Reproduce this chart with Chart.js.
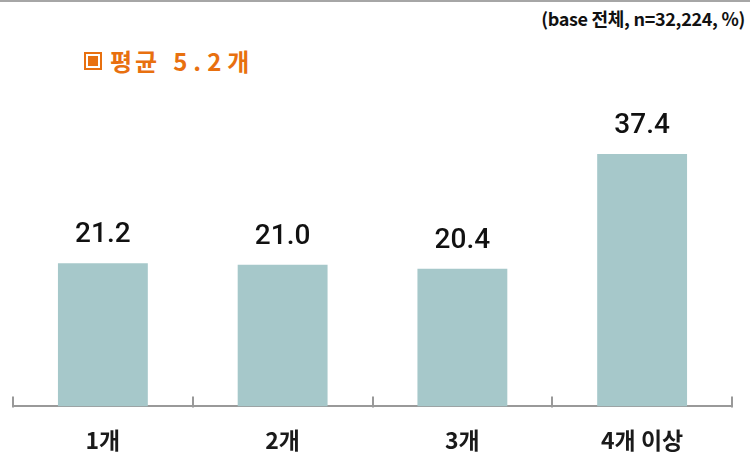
<!DOCTYPE html>
<html>
<head>
<meta charset="utf-8">
<script src="https://cdn.jsdelivr.net/npm/chart.js@4"></script>
<style>
  html, body { margin: 0; padding: 0; background: #fff; }
  #wrap { position: relative; width: 750px; height: 459px; overflow: hidden; }
  #topline { position: absolute; left: 0; top: 0; width: 750px; height: 2px; background: #a6a6a6; }
  #base {
    position: absolute; right: 5px; top: 5px;
    font: 700 18px "Noto Sans CJK KR", sans-serif; color: #111; letter-spacing: -0.3px;
  }
  #avg {
    position: absolute; left: 84px; top: 43px;
    font: 700 24px "Noto Sans CJK KR", sans-serif; color: #e8700f;
    display: flex; align-items: center; letter-spacing: 3px;
  }
  #avg .box {
    width: 10px; height: 10px; border: 2px solid #e8700f; padding: 2px;
    margin-right: 8px; box-sizing: content-box;
  }
  #avg .box i { display: block; width: 10px; height: 10px; background: #e8700f; }
  #avg .num { letter-spacing: 6px; margin-left: 13px; }
  canvas { position: absolute; left: 0; top: 0; }
</style>
</head>
<body>
<div id="wrap">
  <div id="topline"></div>
  <div id="base">(base 전체, n=32,224, %)</div>
  <div id="avg"><span class="box"><i></i></span>평균<span class="num">5.2</span>개</div>
  <canvas id="chart" width="750" height="478"></canvas>
</div>
<script>
const categories = ['1개', '2개', '3개', '4개 이상'];
const shares = [21.2, 21.0, 20.4, 37.4];

// value labels above each bar
const valueLabels = {
  id: 'valueLabels',
  afterDatasetsDraw(chart) {
    const { ctx } = chart;
    const meta = chart.getDatasetMeta(0);
    ctx.save();
    ctx.font = '500 28px Roboto, sans-serif';
    ctx.fillStyle = '#111';
    ctx.textAlign = 'center';
    ctx.textBaseline = 'middle';
    meta.data.forEach((bar, i) => {
      ctx.fillText(shares[i].toFixed(1), bar.x, bar.y - 28);
    });
    ctx.restore();
  },
};

// small upward tick marks at category boundaries
const axisTicks = {
  id: 'axisTicks',
  afterDraw(chart) {
    const { ctx } = chart;
    const x = chart.scales.x;
    const step = x.width / categories.length;
    ctx.save();
    ctx.strokeStyle = '#999';
    ctx.lineWidth = 2;
    for (let i = 0; i <= categories.length; i++) {
      const px = Math.round(x.left + i * step);
      ctx.beginPath();
      ctx.moveTo(px, x.top - 10);
      ctx.lineTo(px, x.top + 1);
      ctx.stroke();
    }
    ctx.restore();
  },
};

new Chart(document.getElementById('chart'), {
  type: 'bar',
  data: {
    labels: categories,
    datasets: [{
      data: shares,
      backgroundColor: '#a6c8ca',
      barPercentage: 0.5,
      categoryPercentage: 1,
    }],
  },
  options: {
    responsive: false,
    animation: false,
    layout: { padding: { left: 13, right: 18, top: 69, bottom: 4 } },
    plugins: {
      legend: { display: false },
      tooltip: { enabled: false },
    },
    scales: {
      x: {
        grid: { display: false, drawTicks: false },
        border: { display: true, color: '#999', width: 2 },
        ticks: {
          padding: 20,
          color: '#1a1a1a',
          font: { family: '"Noto Sans CJK KR", sans-serif', size: 23, weight: '700' },
        },
      },
      y: { display: false, min: 0, max: 50 },
    },
  },
  plugins: [valueLabels, axisTicks],
});
</script>
</body>
</html>
